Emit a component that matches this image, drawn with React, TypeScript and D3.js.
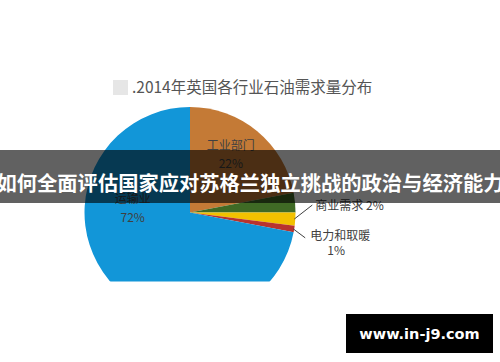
import React from "react";
import * as d3 from "d3";

const categories = ["工业部门", "其他", "商业需求", "电力和取暖", "运输业"];
const values = [22, 3, 2, 1, 72];
const colors = ["#c47a36", "#3f6a25", "#f2c100", "#b8332e", "#1296d8"];
const titleText = ".2014年英国各行业石油需求量分布";
const bannerText = "如何全面评估国家应对苏格兰独立挑战的政治与经济能力";
const watermark = "www.in-j9.com";

const W = 500;
const H = 362;
const cx = 190;
const cy = 212.5;
const R = 105.5;
const clipBottom = 281.5;

export default function App() {
  const pie = d3.pie<number>().sort(null).startAngle(0).endAngle(2 * Math.PI);
  const arcs = pie(values);
  const arcGen = d3.arc<d3.PieArcDatum<number>>().innerRadius(0).outerRadius(R);
  const font = "'Noto Sans CJK SC', 'Noto Sans', sans-serif";
  const pt = (a: number, r: number) => [r * Math.sin(a), -r * Math.cos(a)];
  const mid = (d: d3.PieArcDatum<number>) => (d.startAngle + d.endAngle) / 2;

  return (
    <svg
      width={W}
      height={H}
      style={{ position: "absolute", left: 0, top: 0, background: "#fff" }}
    >
      <rect width={W} height={H} fill="#fff" />
      <defs>
        <clipPath id="pieclip">
          <rect x={0} y={0} width={W} height={clipBottom} />
        </clipPath>
      </defs>
      {/* title */}
      <rect x={113} y={80} width={15} height={15} fill="#e6e6e6" />
      <text x={132} y={93} fontFamily={font} fontSize={15.5} fill="#555">
        {titleText}
      </text>
      {/* pie */}
      <g clipPath="url(#pieclip)">
        <g transform={`translate(${cx},${cy})`}>
          {arcs.map((d, i) => (
            <path key={i} d={arcGen(d) || ""} fill={colors[i]} />
          ))}
        </g>
      </g>
      <g transform={`translate(${cx},${cy})`} fontFamily={font} fontSize={12} fill="#404040">
        {(() => {
          const d = arcs[0];
          const [x, y] = pt(mid(d) - 0.12, 70);
          return (
            <g>
              <text x={x + 3} y={y - 4} textAnchor="middle">{categories[0]}</text>
              <text x={x + 3} y={y + 14} textAnchor="middle">{`${values[0]}%`}</text>
            </g>
          );
        })()}
        {(() => {
          const d = arcs[4];
          const [x, y] = pt(mid(d) + 0.85, 58);
          return (
            <g>
              <text x={x} y={y} textAnchor="middle">{categories[4]}</text>
              <text x={x} y={y + 19} textAnchor="middle">{`${values[4]}%`}</text>
            </g>
          );
        })()}
        {(() => {
          const d = arcs[2];
          const [x0, y0] = pt(mid(d), R - 1);
          const x1 = x0 + 18;
          const y1 = y0 - 14;
          return (
            <g>
              <polyline points={`${x0},${y0} ${x1},${y1}`} fill="none" stroke="#404040" strokeWidth={1} />
              <text x={x1 + 3} y={y1 + 5}>{`${categories[2]} ${values[2]}%`}</text>
            </g>
          );
        })()}
        {(() => {
          const d = arcs[3];
          const [x0, y0] = pt(mid(d), R - 1);
          const x1 = x0 + 12;
          const y1 = y0 + 9;
          return (
            <g>
              <polyline points={`${x0},${y0} ${x1},${y1}`} fill="none" stroke="#404040" strokeWidth={1} />
              <text x={x1 + 5} y={y1 + 2}>{categories[3]}</text>
              <text x={x1 + 31} y={y1 + 17} textAnchor="middle">{`${values[3]}%`}</text>
            </g>
          );
        })()}
      </g>
      {/* banner */}
      <rect x={0} y={150} width={W} height={53} fill="#000" opacity={0.62} />
      <text
        x={W / 2}
        y={190.5}
        textAnchor="middle"
        fontFamily={font}
        fontWeight={700}
        fontSize={20.3}
        fill="#fff"
      >
        {bannerText}
      </text>
      {/* watermark */}
      <rect x={346} y={314} width={147} height={39} fill="#000" />
      <text
        x={419.5}
        y={339}
        textAnchor="middle"
        fontFamily="'DejaVu Sans', sans-serif"
        fontWeight={700}
        fontSize={14.5}
        fill="#fff"
      >
        {watermark}
      </text>
    </svg>
  );
}
